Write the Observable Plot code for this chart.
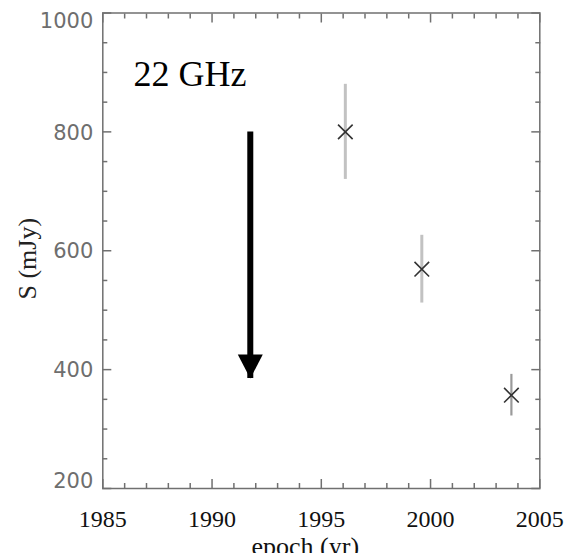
<!DOCTYPE html>
<html><head><meta charset="utf-8">
<script src="https://cdn.jsdelivr.net/npm/d3@7"></script>
<script src="https://cdn.jsdelivr.net/npm/@observablehq/plot@0.6"></script>
<style>
html,body{margin:0;padding:0;background:#fff;}
#chart g[aria-label="x-axis tick label"], #chart g[aria-label="x-axis tick label"] text { font-family: "Liberation Serif", serif !important; font-size: 24px !important; }
#chart g[aria-label="y-axis tick label"], #chart g[aria-label="y-axis tick label"] text { font-family: "DejaVu Sans", sans-serif !important; font-size: 21px !important; }
</style>
</head><body><div id="chart"></div>
<script>
// Data
const epochs = [1996.1, 1999.6, 2003.7];
const fluxes = [800, 569, 357];
const fluxErrors = [80, 57, 35];

const arrowX = [1991.75];
const arrowFrom = [800];
const arrowTo = [385];

const freqLabel = ["22 GHz"];
const freqLabelX = [1986.4];
const freqLabelY = [896];

const xMajorTicks = [1985, 1990, 1995, 2000, 2005];
const xMinorTicks = [1986, 1987, 1988, 1989, 1991, 1992, 1993, 1994, 1996, 1997, 1998, 1999, 2001, 2002, 2003, 2004];
const yMajorTicks = [200, 400, 600, 800, 1000];
const yMinorTicks = [250, 300, 350, 450, 500, 550, 650, 700, 750, 850, 900, 950];
const yLabelsMid = [400, 600, 800];
const yLabelTop = [1000];
const yLabelBottom = [200];

const xTitle = "epoch (yr)";
const yTitle = "S (mJy)";

const points = epochs.map((e, i) => ({epoch: e, flux: fluxes[i], lo: fluxes[i] - fluxErrors[i], hi: fluxes[i] + fluxErrors[i]}));
const arrows = arrowX.map((x, i) => ({x, from: arrowFrom[i], to: arrowTo[i]}));
const labels = freqLabel.map((t, i) => ({t, x: freqLabelX[i], y: freqLabelY[i]}));

const axisColor = "#707070";
const tickStyle = {stroke: axisColor, strokeWidth: 1.5, fill: "none", label: null};

const arrowHead = {
  draw(ctx) {
    ctx.moveTo(-12.5, -24);
    ctx.lineTo(12.5, -24);
    ctx.lineTo(0, 0);
    ctx.closePath();
  }
};

const serifLabel = {fill: "#111", fontSize: 24, fontFamily: "Liberation Serif", label: null, tickFormat: d => String(d)};
const sansLabel = {fill: "#6e6e6e", fontSize: 21, fontFamily: "DejaVu Sans", label: null, tickFormat: d => String(d)};

const chart = Plot.plot({
  width: 567,
  height: 553,
  marginLeft: 102.3,
  marginRight: 27.7,
  marginTop: 12.5,
  marginBottom: 65,
  x: {domain: [1985, 2005]},
  y: {domain: [200, 1000]},
  style: {background: "#fff"},
  marks: [
    // inward ticks on all four sides
    Plot.axisX(xMinorTicks, {anchor: "bottom", tickSize: -5, ...tickStyle}),
    Plot.axisX(xMajorTicks, {anchor: "bottom", tickSize: -9, ...tickStyle}),
    Plot.axisX(xMinorTicks, {anchor: "top", tickSize: -5, ...tickStyle}),
    Plot.axisX(xMajorTicks, {anchor: "top", tickSize: -9, ...tickStyle}),
    Plot.axisY(yMinorTicks, {anchor: "left", tickSize: -5, ...tickStyle}),
    Plot.axisY(yMajorTicks, {anchor: "left", tickSize: -9, ...tickStyle}),
    Plot.axisY(yMinorTicks, {anchor: "right", tickSize: -5, ...tickStyle}),
    Plot.axisY(yMajorTicks, {anchor: "right", tickSize: -9, ...tickStyle}),
    Plot.frame({stroke: axisColor, strokeWidth: 1.5}),
    // tick labels
    Plot.axisX(xMajorTicks, {anchor: "bottom", tickSize: 0, tickPadding: 21, ...serifLabel}),
    Plot.axisY(yLabelsMid, {anchor: "left", tickSize: 0, tickPadding: 9.5, dy: 1, ...sansLabel}),
    Plot.axisY(yLabelTop, {anchor: "left", tickSize: 0, tickPadding: 9.5, dy: 8, ...sansLabel}),
    Plot.axisY(yLabelBottom, {anchor: "left", tickSize: 0, tickPadding: 9.5, dy: -7, ...sansLabel}),
    // axis titles
    Plot.text([xTitle], {text: d => d, frameAnchor: "bottom", dx: -16, dy: 57.7, lineAnchor: "middle", fontSize: 26, fontFamily: "Liberation Serif", fill: "#111"}),
    Plot.text([yTitle], {text: d => d, frameAnchor: "left", rotate: -90, dx: -75.4, dy: 8, lineAnchor: "middle", textAnchor: "middle", fontSize: 26, fontFamily: "Liberation Serif", fill: "#222"}),
    // error bars
    Plot.ruleX(points, {x: "epoch", y1: "lo", y2: "hi", stroke: (d, i) => i === 2 ? "#9a9a9a" : "#c2c2c2", strokeWidth: (d, i) => i === 2 ? 2.2 : 3}),
    // data points
    Plot.dot(points, {x: "epoch", y: "flux", symbol: "times", r: 6.7, stroke: "#333", strokeWidth: 1.6}),
    // arrow
    Plot.ruleX(arrows, {x: "x", y1: "from", y2: "to", stroke: "#000", strokeWidth: 6, strokeLinecap: "butt"}),
    Plot.dot(arrows, {x: "x", y: "to", symbol: arrowHead, fill: "#000", stroke: "none"}),
    // frequency label
    Plot.text(labels, {x: "x", y: "y", text: "t", textAnchor: "start", lineAnchor: "middle", fontSize: 36, fontFamily: "Liberation Serif", fill: "#000"})
  ]
});
document.getElementById("chart").appendChild(chart);
</script>
</body></html>
